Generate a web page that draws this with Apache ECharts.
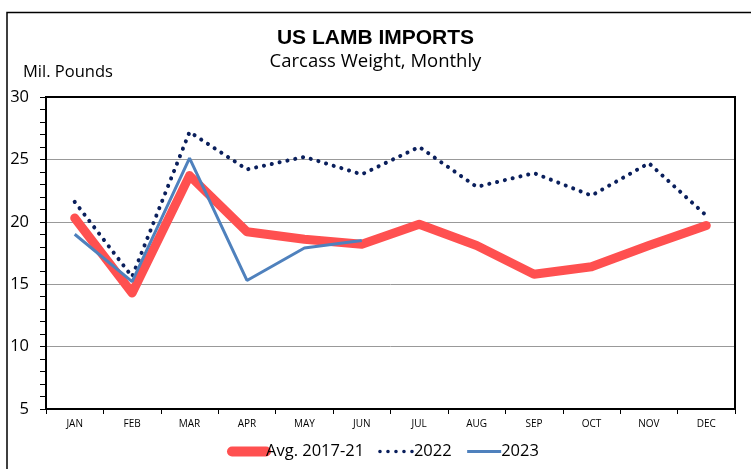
<!DOCTYPE html>
<html>
<head>
<meta charset="utf-8">
<script src="https://cdn.jsdelivr.net/npm/echarts@6/dist/echarts.min.js"></script>
<style>
  html, body { margin: 0; padding: 0; background: #fff; }
  #chart { width: 751px; height: 469px; }
</style>
</head>
<body>
<div id="chart"></div>
<script>
// months on the x axis
const months = ['JAN', 'FEB', 'MAR', 'APR', 'MAY', 'JUN', 'JUL', 'AUG', 'SEP', 'OCT', 'NOV', 'DEC']
// million pounds, carcass weight
const avg2017_21 = [20.3, 14.3, 23.7, 19.2, 18.6, 18.2, 19.8, 18.1, 15.8, 16.4, 18.1, 19.7]
const y2022 = [21.6, 15.6, 27.2, 24.2, 25.2, 23.8, 26.0, 22.8, 23.9, 22.1, 24.7, 20.5]
const y2023 = [19.0, 15.2, 25.1, 15.3, 17.9, 18.5]

const sans = 'Open Sans, sans-serif'
const chart = echarts.init(document.getElementById('chart'))

chart.setOption({
  backgroundColor: '#fff',
  animation: false,
  graphic: [{
    type: 'rect',
    shape: { x: 7, y: 12.5, width: 900, height: 600 },
    style: { fill: 'none', stroke: '#000', lineWidth: 1.5 },
    silent: true
  }, {
    // plot area frame
    type: 'rect',
    shape: { x: 46, y: 97, width: 689, height: 312 },
    style: { fill: 'none', stroke: '#000', lineWidth: 2 },
    silent: true, z: 10
  }, {
    type: 'text',
    left: 23, top: 64,
    style: { text: 'Mil. Pounds', fontSize: 16.5, fontFamily: sans, fill: '#000' }
  }],
  title: [{
    text: 'US LAMB IMPORTS',
    left: 'center',
    top: 23,
    textStyle: { fontSize: 21, fontWeight: 'bold', fontFamily: 'Liberation Sans, Arial, sans-serif', color: '#000' }
  }, {
    text: 'Carcass Weight, Monthly',
    left: 'center',
    top: 47,
    textStyle: { fontSize: 18.5, fontWeight: 'normal', fontFamily: sans, color: '#000' }
  }],
  legend: {
    bottom: 4,
    left: 222,
    itemWidth: 34,
    itemHeight: 10,
    itemGap: 14,
    itemStyle: { opacity: 0 },
    textStyle: { fontSize: 16.5, fontFamily: sans, color: '#000', padding: [0, 0, 0, -5] },
    data: [
      { name: 'Avg. 2017-21', lineStyle: { width: 10, cap: 'round' } },
      { name: '2022', lineStyle: { width: 3.5 } },
      { name: '2023', lineStyle: { width: 3 } }
    ]
  },
  grid: { left: 46, right: 16, top: 97, bottom: 60 },
  xAxis: {
    type: 'category',
    data: months,
    boundaryGap: true,
    axisLine: { lineStyle: { color: '#000', width: 2 } },
    axisTick: { show: true, length: 5, lineStyle: { color: '#000' } },
    axisLabel: { fontSize: 10, color: '#000', margin: 10, fontFamily: sans }
  },
  yAxis: {
    type: 'value',
    min: 5, max: 30, interval: 5,
    axisLine: { show: true, lineStyle: { color: '#000', width: 2 } },
    axisTick: { show: true, length: 6, lineStyle: { color: '#000' } },
    minorTick: { show: true, splitNumber: 5, length: 6, lineStyle: { color: '#000' } },
    axisLabel: { fontSize: 16.5, color: '#000', margin: 17, fontFamily: sans },
    splitLine: { show: true, lineStyle: { color: '#999', width: 1 } }
  },
  series: [{
    name: 'Avg. 2017-21',
    type: 'line',
    data: avg2017_21,
    symbol: 'none',
    color: '#ff5050',
    lineStyle: { width: 9, color: '#ff5050', cap: 'round', join: 'round' },
    z: 2
  }, {
    name: '2022',
    type: 'line',
    data: y2022,
    symbol: 'none',
    color: '#0a1f5c',
    lineStyle: { width: 4, color: '#0a1f5c', type: [0.1, 7.9], cap: 'round' },
    z: 3
  }, {
    name: '2023',
    type: 'line',
    data: y2023,
    symbol: 'none',
    color: '#4f81bd',
    lineStyle: { width: 3, color: '#4f81bd' },
    z: 4
  }]
})
</script>
</body>
</html>
